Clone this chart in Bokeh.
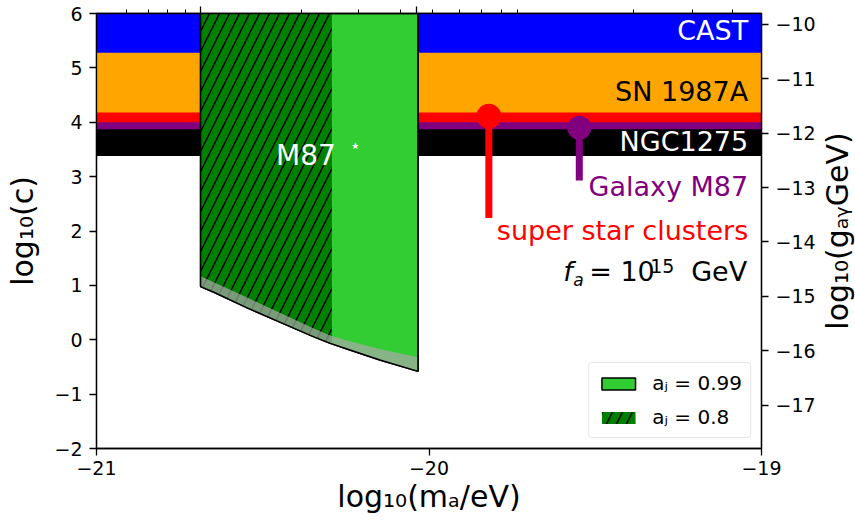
import math
import numpy as np
from bokeh.plotting import figure
from bokeh.layouts import row
from bokeh.models import (Range1d, LinearAxis, FixedTicker, CustomJSTickFormatter,
                          Legend, LegendItem)
from bokeh.core.properties import value
from bokeh.embed import file_html
from bokeh.resources import INLINE

FONT = "DejaVu Sans"

# ---------------- data ----------------
x_ticks = [-21, -20, -19]
y_ticks = [-2, -1, 0, 1, 2, 3, 4, 5, 6]
g_ticks = [-17, -16, -15, -14, -13, -12, -11, -10]
g_offset = -15.798          # log10(g GeV) = log10(c) + g_offset

band_names = ["NGC1275", "Galaxy M87", "super star clusters", "SN 1987A", "CAST"]
band_lower = [3.38, 3.87, 4.00, 4.18, 5.28]
band_colors = ["black", "purple", "red", "orange", "blue"]
label_colors = ["white", "purple", "red", "black", "white"]

# M87* superradiance exclusion region
m87_left = -20.687
aj099_right = -20.033
aj08_right = -20.292
curve_x = [-20.687, -20.647, -20.547, -20.447, -20.348, -20.297, -20.247, -20.148, -20.033]
curve_y = [0.978, 0.873, 0.586, 0.320, 0.057, -0.066, -0.169, -0.372, -0.582]
gray_top = [1.168, 1.057, 0.775, 0.493, 0.212, 0.076, -0.016, -0.169, -0.324]

# point constraints
ssc_x, ssc_y, ssc_y_low = -19.82, 4.11, 2.24
gm87_x, gm87_y, gm87_y_low = -19.548, 3.90, 2.93

top_major = [-20.687, -20.037]
top_minor = [-20.909, -20.843, -20.786, -20.732, -20.384, -20.211, -20.085,
             -19.989, -19.908, -19.842, -19.782, -19.734, -19.386, -19.209, -19.086]

legend_labels = ["aⱼ = 0.99", "aⱼ = 0.8"]
right_title = "log₁₀(gₐᵧGeV)"

# ---------------- figure ----------------
x0, x1 = x_ticks[0], x_ticks[-1]
y0, y1 = y_ticks[0], y_ticks[-1]

p = figure(width=818, height=521, x_range=Range1d(x0, x1), y_range=Range1d(y0, y1),
           output_backend="svg", toolbar_location=None,
           min_border_left=96, min_border_right=55, min_border_top=13, min_border_bottom=73)
p.extra_y_ranges = {"g": Range1d(y0 + g_offset, y1 + g_offset)}
p.xgrid.visible = False
p.ygrid.visible = False
p.outline_line_color = "black"
p.outline_line_width = 1.3
p.background_fill_color = "white"
p.border_fill_color = "white"

# bands
p.quad(left=[x0] * len(band_lower), right=[x1] * len(band_lower),
       bottom=band_lower, top=[y1] * len(band_lower),
       fill_color=band_colors, line_color=None)

# a_J = 0.99 region
lx = curve_x + [aj099_right, m87_left]
ly = curve_y + [y1, y1]
r_light = p.patch(lx, ly, fill_color="limegreen", line_color="black", line_width=1.5)

# a_J = 0.8 region (hatched)
y_cut = float(np.interp(aj08_right, curve_x, curve_y))
hx = [x for x in curve_x if x < aj08_right] + [aj08_right, aj08_right, m87_left]
hy = [y for x, y in zip(curve_x, curve_y) if x < aj08_right] + [y_cut, y1, y1]
r_hatch = p.patch(hx, hy, fill_color="green", line_color=None,
                  hatch_pattern="/", hatch_color="black", hatch_weight=1.5, hatch_scale=20)

# gray uncertainty band
p.patch(curve_x + curve_x[::-1], gray_top + curve_y[::-1],
        fill_color="darkgray", fill_alpha=0.7, line_color=None)

# outline of exclusion region
p.line([m87_left] + curve_x + [aj099_right], [y1] + curve_y + [y1],
       line_color="black", line_width=1.5)

# point constraints
p.segment(x0=[ssc_x], y0=[ssc_y], x1=[ssc_x], y1=[ssc_y_low], line_color="red", line_width=7)
p.scatter([ssc_x], [ssc_y], size=25, fill_color="red", line_color=None)
p.segment(x0=[gm87_x], y0=[gm87_y], x1=[gm87_x], y1=[gm87_y_low], line_color="purple", line_width=7)
p.scatter([gm87_x], [gm87_y], size=24, fill_color="purple", line_color=None)

MID = 0.346   # baseline -> vertical middle of the text box, in em


def text_at(x, y, txt, size, color, align="left", dx=0, dy=0, style="normal"):
    p.text(x=x, y=y, text=txt, text_color=color, x_offset=dx, y_offset=dy - MID * size,
           text_align=align, text_baseline="middle", text_font=value(FONT),
           text_font_size=value(f"{size}px"), text_font_style=style)


# band labels (y = baseline positions)
lab_x = -19.04
lab_y = [3.470, 2.654, 1.838, 4.385, 5.521]
text_at([lab_x] * len(band_names), lab_y, band_names, 27, label_colors, align="right")

# f_a = 10^15 GeV
fa_y = 1.089
fa_parts = [
    ("f", -185, 0, 27, "italic"),
    ("a", -175, 5, 17, "italic"),
    ("= 10", -159, 0, 27, "normal"),
    ("15", -98, -8, 19, "normal"),
    ("GeV", -57, 0, 27, "normal"),
]
for t, dx, dy, fs, st in fa_parts:
    text_at([lab_x], [fa_y], [t], fs, "black", dx=dx, dy=dy, style=st)

# M87* label
text_at([-20.46], [3.206], ["M87"], 28, "white")
p.text(x=[-20.222], y=[3.556], text=["★"], text_color="white", text_align="center",
       text_baseline="middle", text_font=value(FONT), text_font_size=value("9px"))

# legend
legend = Legend(items=[LegendItem(label=legend_labels[0], renderers=[r_light]),
                       LegendItem(label=legend_labels[1], renderers=[r_hatch])],
                location="bottom_right")
legend.label_text_font = FONT
legend.label_text_font_size = "20px"
legend.label_text_color = "black"
legend.glyph_width = 42
legend.glyph_height = 15
legend.label_standoff = 13
legend.spacing = 10
legend.padding = 8
legend.margin = 10
legend.label_height = 20
legend.border_line_color = "#cccccc"
legend.border_line_width = 1
legend.background_fill_alpha = 0.85
if "border_radius" in Legend.properties():
    legend.border_radius = 4
p.add_layout(legend)

# ---------------- axes ----------------
minus_fmt = "return String(tick).replace('-', '\u2212')"


def style_axis(ax, standoff, label_standoff):
    ax.axis_line_color = "black"
    ax.axis_line_width = 1.3
    ax.major_tick_line_color = "black"
    ax.major_tick_line_width = 1.3
    ax.major_tick_out = 7
    ax.major_tick_in = 0
    ax.minor_tick_out = 0
    ax.minor_tick_in = 0
    ax.major_label_text_font = FONT
    ax.major_label_text_font_size = "19px"
    ax.major_label_text_color = "black"
    ax.major_label_standoff = standoff
    ax.axis_label_text_font = FONT
    ax.axis_label_text_font_size = "30px"
    ax.axis_label_text_font_style = "normal"
    ax.axis_label_text_color = "black"
    ax.axis_label_standoff = label_standoff
    ax.formatter = CustomJSTickFormatter(code=minus_fmt)


xa = p.xaxis[0]
xa.ticker = FixedTicker(ticks=x_ticks)
xa.axis_label = "log₁₀(mₐ/eV)"
style_axis(xa, 5, 1)

ya = p.yaxis[0]
ya.ticker = FixedTicker(ticks=y_ticks)
ya.axis_label = "log₁₀(c)"
style_axis(ya, 7, 11)

ra = LinearAxis(y_range_name="g", ticker=FixedTicker(ticks=g_ticks))
style_axis(ra, 7, 0)
p.add_layout(ra, "right")

ta = LinearAxis(ticker=FixedTicker(ticks=top_major, minor_ticks=top_minor),
                formatter=CustomJSTickFormatter(code="return ''"))
ta.axis_line_color = "black"
ta.axis_line_width = 1.3
ta.major_tick_line_color = "black"
ta.minor_tick_line_color = "black"
ta.major_tick_line_width = 1.3
ta.minor_tick_line_width = 1.0
ta.major_tick_out = 7
ta.major_tick_in = 0
ta.minor_tick_out = 4
ta.minor_tick_in = 0
ta.major_label_text_font_size = "0px"
ta.major_label_standoff = 0
p.add_layout(ta, "above")

# ---------------- right-axis title strip (reads bottom-to-top) ----------------
p2 = figure(width=37, height=521, x_range=Range1d(0, 1), y_range=Range1d(y0, y1),
            output_backend="svg", toolbar_location=None,
            x_axis_location=None, y_axis_location=None,
            min_border_left=0, min_border_right=0, min_border_top=13, min_border_bottom=73)
p2.grid.visible = False
p2.outline_line_color = None
p2.background_fill_color = "white"
p2.border_fill_color = "white"
p2.text(x=[0.5], y=[(y0 + y1) / 2], text=[right_title], angle=math.pi / 2,
        text_align="center", text_baseline="middle", text_color="black",
        text_font=value(FONT), text_font_size=value("30px"))

layout = row(p, p2)
open("out.html", "w").write(file_html(layout, INLINE))
